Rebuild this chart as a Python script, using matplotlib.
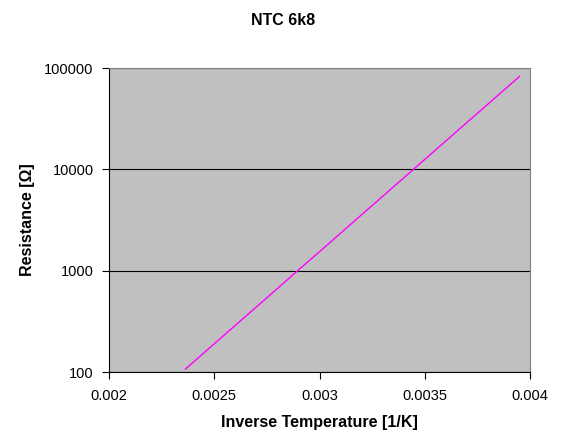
import numpy as np
import matplotlib.pyplot as plt

plt.rcParams['font.family'] = ['Liberation Sans', 'DejaVu Sans']

# NTC 6k8 - temperatura [°C] y resistencia [ohm]
temp_c = [-20, -10, 0, 10, 20, 25, 30, 40, 50, 60, 70, 80, 90,
          100, 110, 120, 130, 140, 150]
resistance = [82700, 44080, 24620, 14320, 8640, 6800, 5390, 3470, 2290,
              1550, 1080, 762, 549, 403, 301, 228, 175, 136, 107]

x_ticks = [0.002, 0.0025, 0.003, 0.0035, 0.004]
x_labels = ['0.002', '0.0025', '0.003', '0.0035', '0.004']
y_ticks = [100, 1000, 10000, 100000]
y_labels = ['100', '1000', '10000', '100000']

inv_t = 1.0 / (np.array(temp_c) + 273.15)

fig = plt.figure(figsize=(5.64, 4.46), dpi=100)
ax = fig.add_axes([0.1933, 0.1659, 0.7465, 0.6816])
ax.set_facecolor('#C0C0C0')

ax.plot(inv_t, resistance, color='#FF00FF', linewidth=1)

ax.set_yscale('log')
ax.set_xlim(0.002, 0.004)
ax.set_ylim(100, 100000)
ax.set_xticks(x_ticks, x_labels)
ax.set_yticks(y_ticks, y_labels)
ax.minorticks_off()
ax.yaxis.grid(True, color='black', linewidth=0.8)
ax.set_axisbelow(True)

ax.tick_params(direction='out', length=5, width=0.8, labelsize=10.5,
               top=False, right=False)
ax.tick_params(axis='x', pad=7)
ax.tick_params(axis='y', pad=6)
for s in ['top', 'right']:
    ax.spines[s].set_color('#808080')
for s in ['left', 'bottom']:
    ax.spines[s].set_color('black')

ax.set_xlabel('Inverse Temperature [1/K]', fontsize=11.5, fontweight='bold', labelpad=9)
ax.set_ylabel('Resistance [Ω]', fontsize=11.5, fontweight='bold', labelpad=7)
fig.text(0.502, 0.953, 'NTC 6k8', ha='center', va='center',
         fontsize=11.5, fontweight='bold')

plt.savefig('out.png', dpi=100)
